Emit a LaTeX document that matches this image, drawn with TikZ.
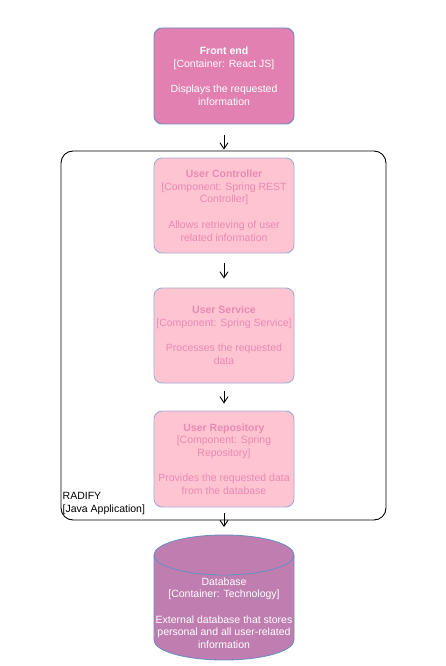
\documentclass[tikz,border=0pt]{standalone}
\usepackage{fontspec}
\setmainfont{Liberation Sans}
\usetikzlibrary{arrows.meta}
\definecolor{frontpink}{RGB}{226,128,177}
\definecolor{edgeblue}{RGB}{108,142,191}
\definecolor{comppink}{RGB}{255,196,210}
\definecolor{compline}{RGB}{160,172,214}
\definecolor{comptext}{RGB}{232,138,178}
\definecolor{dbmauve}{RGB}{192,125,176}
\tikzset{l/.style={font=\fontsize{10.5}{12.7}\selectfont}}
\tikzset{box/.style={l, rectangle, rounded corners=8pt, inner sep=2pt, minimum width=140pt, minimum height=95pt, align=center, line width=0.9pt}}
\tikzset{cont/.style={box, draw=edgeblue, fill=frontpink, text=white}}
\tikzset{comp/.style={box, draw=compline, fill=comppink, text=comptext}}
\tikzset{a/.style={line width=0.9pt, >={Straight Barb[length=6pt,width=8pt]}}}

\begin{document}
\begin{tikzpicture}[x=1pt,y=-1pt]
  \fill[white] (0,0) rectangle (446,666);
  \useasboundingbox (0,0) rectangle (446,666);
  \node[draw, line width=0.9pt, rounded corners=12pt, minimum width=325pt, minimum height=369pt] (app) at (223.5,335.5) {};
  \node[l, anchor=west, align=left, inner sep=0pt] (applabel) at (62.5,503.5) {RADIFY\\{[Java Application]}};
  \node[cont, minimum height=96pt] (front) at (224,76)
    {\textbf{Front end}\\{[Container: React JS]}\\[12.7pt]Displays the requested\\information};
  \node[comp] (ctrl) at (224,205.5)
    {\textbf{User Controller}\\{[Component: Spring REST}\\Controller]\\[12.7pt]Allows retrieving of user\\related information}
    edge [<-, a, shorten <=8pt, shorten >=11pt] (front);
  \node[comp] (service) at (224,335.5)
    {\textbf{User Service}\\{[Component: Spring Service]}\\[12.7pt]Processes the requested\\data}
    edge [<-, a, shorten <=9pt, shorten >=10pt] (ctrl);
  \node[comp, minimum height=96pt] (repo) at (224,459)
    {\textbf{User Repository}\\{[Component: Spring}\\Repository]\\[12.7pt]Provides the requested data\\from the database}
    edge [<-, a, shorten <=7pt, shorten >=8pt] (service);
  % database cylinder
  \draw[fill=dbmauve, draw=edgeblue, line width=0.9pt] (154,555) -- (154,640)
    arc[start angle=180, end angle=0, x radius=70, y radius=20] -- (294,555);
  \draw[fill=dbmauve, draw=edgeblue, line width=0.9pt] (224,555) ellipse [x radius=70, y radius=20];
  \coordinate (dbtop) at (224,535);
  \node[l, align=center, text=white] (db) at (224,613)
    {Database\\{[Container: Technology]}\\[12.7pt]External database that stores\\personal and all user-related\\information};
  \draw[->, a, shorten <=6pt, shorten >=8pt] (repo) -- (dbtop);
\end{tikzpicture}
\end{document}
